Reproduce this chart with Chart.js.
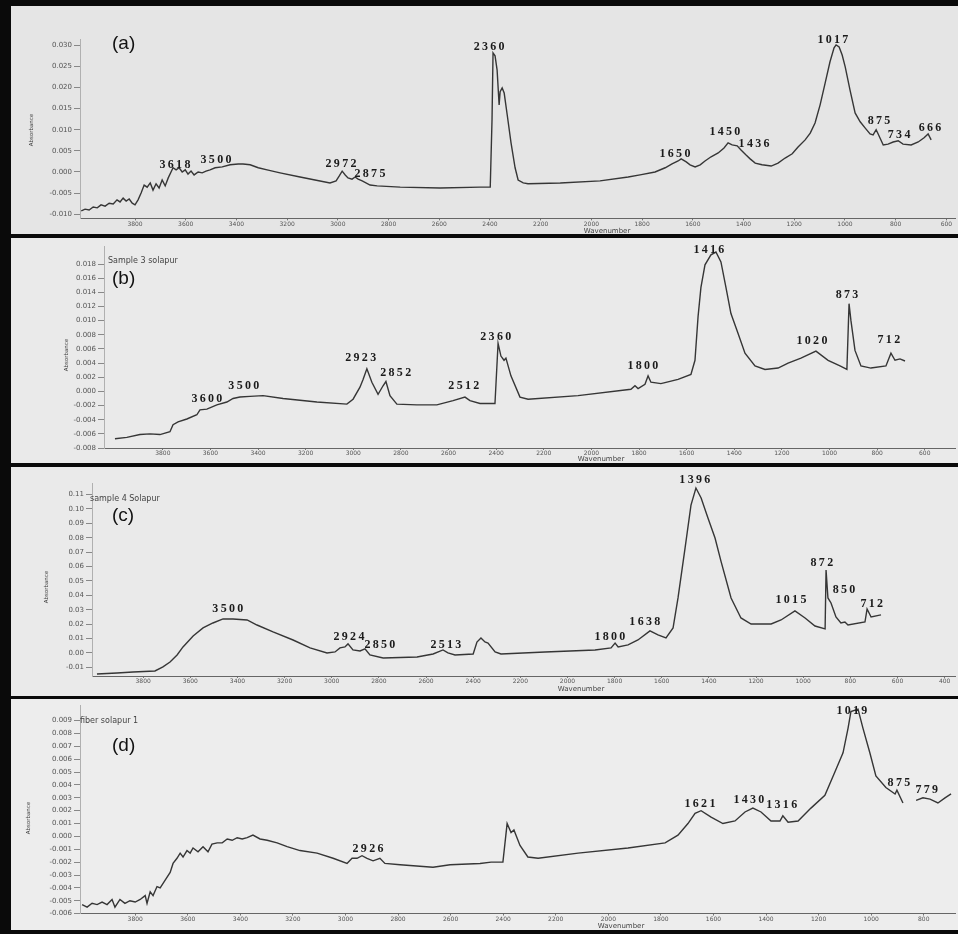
<!DOCTYPE html>
<html><head><meta charset="utf-8">
<script src="https://cdn.jsdelivr.net/npm/chart.js@4.4.1/dist/chart.umd.min.js"></script>
<style>
html,body{margin:0;padding:0;background:#000;}
#wrap{position:relative;width:958px;height:934px;background:#0a0a0a;overflow:hidden;}
.panel{position:absolute;left:11px;width:947px;}
.panel canvas{display:block;}
</style></head><body>
<div id="wrap">
 <div class="panel" style="top:6px;height:228px;background:#e5e5e5"><canvas id="ca" width="947" height="228"></canvas></div>
 <div class="panel" style="top:238px;height:225px;background:#eaeaea"><canvas id="cb" width="947" height="225"></canvas></div>
 <div class="panel" style="top:467px;height:229px;background:#eaeaea"><canvas id="cc" width="947" height="229"></canvas></div>
 <div class="panel" style="top:699px;height:231px;background:#ededed"><canvas id="cd" width="947" height="231"></canvas></div>
</div>
<script>
// ---------- Panel (a) ----------
const xTicksA = [3800,3600,3400,3200,3000,2800,2600,2400,2200,2000,1800,1600,1400,1200,1000,800,600];
const yTicksA = [0.030,0.025,0.020,0.015,0.010,0.005,0.000,-0.005,-0.010];
const wnA = [4012,3997,3981,3965,3949,3934,3918,3902,3886,3871,3859,3847,3835,3823,3811,3800,3788,3776,3764,3752,3740,3729,3717,3705,3693,3681,3669,3658,3650,3638,3626,3614,3602,3591,3579,3567,3551,3535,3520,3504,3484,3456,3425,3393,3374,3346,3314,3279,3228,3149,3090,3031,3007,2995,2983,2971,2960,2944,2932,2920,2904,2873,2845,2754,2597,2439,2399,2392,2388,2380,2372,2364,2360,2352,2344,2332,2317,2301,2289,2269,2250,2123,1966,1855,1808,1749,1709,1682,1658,1646,1626,1611,1591,1571,1552,1528,1500,1477,1461,1445,1425,1410,1390,1374,1354,1327,1291,1264,1236,1208,1185,1157,1137,1118,1098,1078,1059,1043,1035,1023,1011,999,980,960,940,920,901,889,877,869,849,830,810,790,771,739,711,688,672,660];
const absA = [-0.0092,-0.0088,-0.0090,-0.0083,-0.0085,-0.0078,-0.0081,-0.0074,-0.0076,-0.0066,-0.0071,-0.0062,-0.0069,-0.0064,-0.0074,-0.0078,-0.0066,-0.0050,-0.0031,-0.0036,-0.0026,-0.0043,-0.0028,-0.0038,-0.0019,-0.0033,-0.0014,0.0000,0.0010,0.0005,0.0010,0.0000,0.0005,-0.0005,0.0002,-0.0007,0.0000,-0.0002,0.0002,0.0005,0.0010,0.0012,0.0017,0.0019,0.0019,0.0017,0.0010,0.0005,-0.0002,-0.0012,-0.0019,-0.0026,-0.0021,-0.0010,0.0002,-0.0007,-0.0014,-0.0017,-0.0012,-0.0017,-0.0021,-0.0031,-0.0033,-0.0036,-0.0038,-0.0036,-0.0036,0.0123,0.0282,0.0275,0.0242,0.0159,0.0190,0.0199,0.0187,0.0135,0.0069,0.0010,-0.0019,-0.0026,-0.0028,-0.0026,-0.0021,-0.0012,-0.0007,0.0000,0.0010,0.0019,0.0026,0.0031,0.0024,0.0017,0.0012,0.0017,0.0026,0.0036,0.0045,0.0057,0.0069,0.0064,0.0062,0.0052,0.0040,0.0031,0.0021,0.0017,0.0014,0.0021,0.0033,0.0043,0.0059,0.0076,0.0092,0.0116,0.0159,0.0211,0.0261,0.0294,0.0301,0.0296,0.0277,0.0249,0.0194,0.0140,0.0119,0.0104,0.0090,0.0088,0.0100,0.0090,0.0064,0.0066,0.0071,0.0074,0.0066,0.0064,0.0071,0.0081,0.0090,0.0076];
const peakTextA = ['3618','3500','2972','2875','2360','1650','1450','1436','1017','875','734','666'];
const peakWnA = [3638,3476,2983,2869,2399,1666,1469,1354,1043,861,782,660];
const peakAbsA = [0.0010,0.0021,0.0012,-0.0012,0.0289,0.0036,0.0088,0.0059,0.0306,0.0114,0.0081,0.0097];

// ---------- Panel (b) ----------
const xTicksB = [3800,3600,3400,3200,3000,2800,2600,2400,2200,2000,1800,1600,1400,1200,1000,800,600];
const yTicksB = [0.018,0.016,0.014,0.012,0.010,0.008,0.006,0.004,0.002,0.000,-0.002,-0.004,-0.006,-0.008];
const wnB = [4001,3951,3896,3854,3812,3770,3757,3736,3699,3657,3644,3615,3573,3531,3505,3476,3434,3379,3295,3153,3027,3001,2972,2959,2943,2922,2896,2875,2863,2846,2817,2733,2649,2581,2531,2510,2468,2405,2392,2380,2367,2359,2338,2300,2266,2056,1834,1817,1804,1775,1762,1750,1708,1636,1582,1565,1552,1540,1523,1498,1477,1456,1435,1414,1384,1355,1313,1271,1216,1174,1120,1057,1006,956,927,918,910,893,868,826,763,742,725,704,683];
const absB = [-0.0067,-0.0065,-0.0061,-0.0060,-0.0061,-0.0057,-0.0047,-0.0043,-0.0039,-0.0033,-0.0026,-0.0025,-0.0019,-0.0015,-0.0010,-0.0008,-0.0007,-0.0006,-0.0010,-0.0015,-0.0018,-0.0011,0.0006,0.0017,0.0032,0.0013,-0.0004,0.0008,0.0014,-0.0006,-0.0018,-0.0019,-0.0019,-0.0013,-0.0008,-0.0013,-0.0017,-0.0017,0.0068,0.0050,0.0044,0.0047,0.0022,-0.0008,-0.0011,-0.0006,0.0003,0.0008,0.0004,0.0010,0.0022,0.0013,0.0011,0.0017,0.0024,0.0044,0.0106,0.0147,0.0179,0.0193,0.0197,0.0183,0.0147,0.0110,0.0082,0.0054,0.0036,0.0031,0.0033,0.0040,0.0047,0.0057,0.0044,0.0036,0.0031,0.0124,0.0100,0.0058,0.0036,0.0033,0.0036,0.0054,0.0044,0.0046,0.0043];
const peakTextB = ['3600','3500','2923','2852','2512','2360','1800','1416','1020','873','712'];
const peakWnB = [3610,3455,2964,2817,2531,2397,1779,1502,1069,922,746];
const peakAbsB = [-0.0015,0.0003,0.0043,0.0022,0.0003,0.0072,0.0031,0.0196,0.0067,0.0132,0.0069];

// ---------- Panel (c) ----------
const xTicksC = [3800,3600,3400,3200,3000,2800,2600,2400,2200,2000,1800,1600,1400,1200,1000,800,600,400];
const yTicksC = [0.11,0.10,0.09,0.08,0.07,0.06,0.05,0.04,0.03,0.02,0.01,0.00,-0.01];
const wnC = [3996,3911,3843,3750,3716,3686,3656,3631,3588,3546,3504,3461,3419,3359,3317,3249,3164,3092,3020,2986,2965,2944,2931,2910,2880,2859,2838,2782,2638,2570,2528,2507,2477,2400,2384,2367,2350,2337,2307,2282,2095,1883,1815,1798,1785,1743,1701,1650,1616,1582,1552,1531,1501,1476,1455,1433,1404,1374,1348,1306,1264,1221,1136,1094,1035,992,950,907,903,895,882,861,840,823,810,738,729,712,670];
const absC = [-0.0146,-0.0139,-0.0132,-0.0125,-0.0097,-0.0063,-0.0014,0.0042,0.0118,0.0174,0.0208,0.0236,0.0236,0.0229,0.0194,0.0146,0.0090,0.0035,0.0000,0.0007,0.0035,0.0042,0.0063,0.0021,0.0014,0.0028,-0.0014,-0.0035,-0.0028,-0.0007,0.0021,0.0000,-0.0014,-0.0007,0.0076,0.0104,0.0076,0.0069,0.0007,-0.0007,0.0007,0.0021,0.0035,0.0069,0.0042,0.0056,0.0090,0.0153,0.0125,0.0104,0.0174,0.0382,0.0729,0.1027,0.1145,0.1076,0.0937,0.0798,0.0632,0.0382,0.0243,0.0201,0.0201,0.0229,0.0292,0.0243,0.0187,0.0167,0.0576,0.0382,0.0347,0.0250,0.0208,0.0215,0.0194,0.0215,0.0305,0.0250,0.0264];
const peakTextC = ['3500','2924','2850','2513','1800','1638','1396','1015','872','850','712'];
const peakWnC = [3436,2922,2791,2511,1815,1667,1455,1047,916,822,704];
const peakAbsC = [0.0285,0.0090,0.0035,0.0035,0.0090,0.0194,0.1180,0.0347,0.0604,0.0416,0.0319];

// ---------- Panel (d) ----------
const xTicksD = [3800,3600,3400,3200,3000,2800,2600,2400,2200,2000,1800,1600,1400,1200,1000,800];
const yTicksD = [0.009,0.008,0.007,0.006,0.005,0.004,0.003,0.002,0.001,0.000,-0.001,-0.002,-0.003,-0.004,-0.005,-0.006];
const wnD = [4002,3983,3964,3945,3926,3907,3888,3877,3858,3839,3820,3800,3781,3762,3755,3743,3732,3717,3705,3686,3667,3656,3641,3629,3618,3603,3591,3580,3561,3542,3523,3508,3488,3469,3450,3431,3412,3393,3374,3352,3325,3298,3260,3222,3173,3108,3047,2994,2975,2956,2937,2918,2895,2869,2850,2792,2667,2602,2488,2446,2401,2385,2370,2359,2336,2306,2267,2115,1925,1784,1735,1697,1670,1647,1609,1564,1518,1480,1450,1419,1381,1347,1336,1316,1278,1229,1176,1138,1107,1088,1077,1050,1031,1005,982,944,909,902,879,855,829,803,776,746,719,696];
const absD = [-0.0053,-0.0055,-0.0052,-0.0053,-0.0051,-0.0053,-0.0049,-0.0055,-0.0049,-0.0052,-0.0050,-0.0051,-0.0049,-0.0046,-0.0052,-0.0043,-0.0046,-0.0039,-0.0040,-0.0034,-0.0028,-0.0021,-0.0017,-0.0013,-0.0016,-0.0011,-0.0013,-0.0009,-0.0012,-0.0008,-0.0012,-0.0006,-0.0005,-0.0005,-0.0002,-0.0003,-0.0001,-0.0002,-0.0001,0.0001,-0.0002,-0.0003,-0.0005,-0.0008,-0.0011,-0.0013,-0.0017,-0.0021,-0.0017,-0.0017,-0.0015,-0.0017,-0.0019,-0.0017,-0.0021,-0.0022,-0.0024,-0.0022,-0.0021,-0.0020,-0.0020,0.0010,0.0003,0.0005,-0.0007,-0.0016,-0.0017,-0.0013,-0.0009,-0.0005,0.0001,0.0010,0.0018,0.0020,0.0015,0.0010,0.0012,0.0019,0.0022,0.0019,0.0012,0.0012,0.0016,0.0011,0.0012,0.0022,0.0032,0.0050,0.0065,0.0084,0.0097,0.0099,0.0084,0.0065,0.0047,0.0038,0.0033,0.0036,0.0026,null,0.0028,0.0030,0.0029,0.0026,0.0030,0.0033];
const peakTextD = ['2926','1621','1430','1316','1019','875','779'];
const peakWnD = [2910,1647,1461,1336,1069,890,784];
const peakAbsD = [-0.0012,0.0023,0.0026,0.0022,0.0095,0.0039,0.0034];

Chart.defaults.font.family = '"DejaVu Sans", sans-serif';

function makeDecor(p) {
  return {
    id: 'decor',
    afterDatasetsDraw(chart) {
      const ctx = chart.ctx, xs = chart.scales.x, ys = chart.scales.y;
      ctx.save();
      ctx.fillStyle = '#1b1b1b';
      ctx.font = 'bold 12px "Liberation Serif"';
      ctx.letterSpacing = '2.3px';
      ctx.textAlign = 'center';
      ctx.textBaseline = 'alphabetic';
      p.peakText.forEach((t, i) => {
        ctx.fillText(t, xs.getPixelForValue(p.peakWn[i]), ys.getPixelForValue(p.peakAbs[i]));
      });
      ctx.letterSpacing = '0px';
      ctx.textAlign = 'left';
      ctx.fillStyle = '#111';
      ctx.font = '19px "Liberation Sans"';
      ctx.fillText(p.letter, p.lx, p.ly);
      if (p.sample) {
        ctx.font = '8px "DejaVu Sans"';
        ctx.fillStyle = '#444';
        ctx.fillText(p.sample, p.sx, p.sy);
      }
      ctx.textAlign = 'center';
      ctx.fillStyle = '#444';
      ctx.font = '7px "DejaVu Sans"';
      ctx.fillText('Wavenumber', p.wx, p.wy);
      ctx.font = '5.5px "DejaVu Sans"';
      ctx.translate(p.tx, p.ty);
      ctx.rotate(-Math.PI / 2);
      ctx.fillText('Absorbance', 0, 0);
      ctx.restore();
    }
  };
}

function makeChart(id, p) {
  const pts = p.wn.map((w, i) => ({ x: w, y: p.abs[i] }));
  return new Chart(document.getElementById(id), {
    type: 'line',
    data: { datasets: [{ data: pts, borderColor: '#363636', borderWidth: 1.4, pointRadius: 0, tension: 0, fill: false, spanGaps: false }] },
    options: {
      responsive: false, animation: false, devicePixelRatio: 1,
      layout: { padding: { left: 0, right: 3, top: p.top, bottom: 0 } },
      plugins: { legend: { display: false }, tooltip: { enabled: false } },
      scales: {
        x: {
          type: 'linear', reverse: true, min: p.xMin, max: p.xMax,
          afterBuildTicks: s => { s.ticks = p.xTicks.map(v => ({ value: v })); },
          afterFit: s => { s.height = p.xH; },
          ticks: { autoSkip: false, maxRotation: 0, minRotation: 0, padding: 0, color: '#555', font: { size: 6 }, callback: v => String(v) },
          grid: { drawOnChartArea: false, drawTicks: true, tickLength: 2, color: '#777' },
          border: { display: true, color: '#666', dash: [2, 4], width: 1 }
        },
        y: {
          type: 'linear', min: p.yMin, max: p.yMax,
          afterBuildTicks: s => { s.ticks = p.yTicks.map(v => ({ value: v })); },
          afterFit: s => { s.width = p.left; },
          ticks: { autoSkip: false, padding: 2, color: '#555', font: { size: 7 }, callback: v => v.toFixed(p.dec) },
          grid: { drawOnChartArea: false, drawTicks: true, tickLength: 6, color: '#888' },
          border: { display: true, color: '#b0b0b0', width: 1 }
        }
      }
    },
    plugins: [makeDecor(p)]
  });
}

makeChart('ca', { wn: wnA, abs: absA, xTicks: xTicksA, yTicks: yTicksA, xMin: 566, xMax: 4017, yMin: -0.011, yMax: 0.0315,
  left: 69, top: 33, xH: 15.6, dec: 3, peakText: peakTextA, peakWn: peakWnA, peakAbs: peakAbsA,
  letter: '(a)', lx: 101, ly: 43, sample: '', wx: 596, wy: 227, tx: 22, ty: 124 });

makeChart('cb', { wn: wnB, abs: absB, xTicks: xTicksB, yTicks: yTicksB, xMin: 473, xMax: 4047, yMin: -0.008, yMax: 0.0205,
  left: 93, top: 8.4, xH: 15, dec: 3, peakText: peakTextB, peakWn: peakWnB, peakAbs: peakAbsB,
  letter: '(b)', lx: 101, ly: 46, sample: 'Sample 3 solapur', sx: 97, sy: 25, wx: 590, wy: 223, tx: 57, ty: 117 });

makeChart('cc', { wn: wnC, abs: absC, xTicks: xTicksC, yTicks: yTicksC, xMin: 356, xMax: 4017, yMin: -0.016, yMax: 0.118,
  left: 81, top: 16, xH: 20, dec: 2, peakText: peakTextC, peakWn: peakWnC, peakAbs: peakAbsC,
  letter: '(c)', lx: 101, ly: 54, sample: 'sample 4 Solapur', sx: 79, sy: 34, wx: 570, wy: 224, tx: 37, ty: 120 });

makeChart('cd', { wn: wnD, abs: absD, xTicks: xTicksD, yTicks: yTicksD, xMin: 681, xMax: 4010, yMin: -0.006, yMax: 0.0102,
  left: 69, top: 5, xH: 16.4, dec: 3, peakText: peakTextD, peakWn: peakWnD, peakAbs: peakAbsD,
  letter: '(d)', lx: 101, ly: 52, sample: 'fiber solapur 1', sx: 69, sy: 24, wx: 610, wy: 229, tx: 19, ty: 119 });
</script>
</body></html>
